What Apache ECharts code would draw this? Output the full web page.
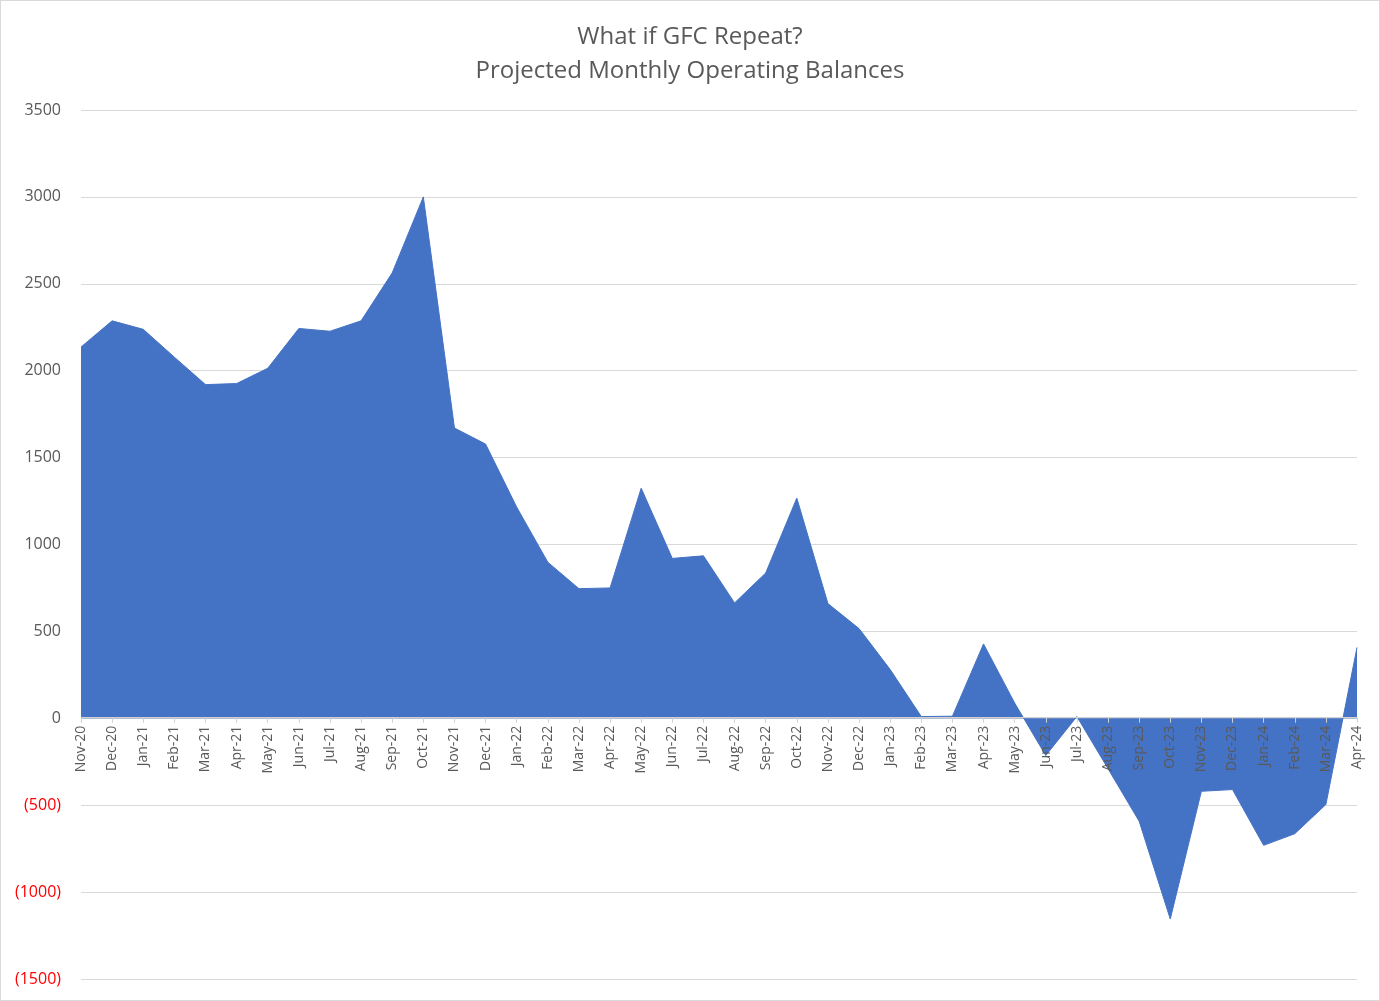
<!DOCTYPE html>
<html><head><meta charset="utf-8">
<script src="https://cdn.jsdelivr.net/npm/echarts@6/dist/echarts.min.js"></script>
<style>
html,body{margin:0;padding:0;background:#fff;}
#c{width:1380px;height:1001px;box-sizing:border-box;border:1px solid #d9d9d9;}
</style></head><body>
<div id="c"></div>
<script>
const titleLines = ["What if GFC Repeat?", "Projected Monthly Operating Balances"];
const months = ["Nov-20","Dec-20","Jan-21","Feb-21","Mar-21","Apr-21","May-21","Jun-21","Jul-21","Aug-21","Sep-21","Oct-21",
"Nov-21","Dec-21","Jan-22","Feb-22","Mar-22","Apr-22","May-22","Jun-22","Jul-22","Aug-22","Sep-22","Oct-22",
"Nov-22","Dec-22","Jan-23","Feb-23","Mar-23","Apr-23","May-23","Jun-23","Jul-23","Aug-23","Sep-23","Oct-23",
"Nov-23","Dec-23","Jan-24","Feb-24","Mar-24","Apr-24"];
const balances = [2136,2287,2238,2078,1920,1926,2014,2243,2227,2287,2563,3000,
1670,1578,1215,898,746,750,1324,920,935,664,836,1267,
660,516,281,10,12,428,88,-214,10,-290,-592,-1155,
-420,-410,-731,-664,-496,408];
const yMin = -1500, yMax = 3500, yStep = 500;

const W = 1380, H = 1001;
const gTop = 109, gBottom = 21, gLeft = 80, gRight = 22;
const plotH = H - gTop - gBottom;
// place the category axis at the value-axis zero
const zeroOffset = -plotH * (0 - yMin) / (yMax - yMin);

const chart = echarts.init(document.getElementById('c'), null, {renderer:'canvas'});
chart.setOption({
  animation:false,
  title:{
    text: titleLines.join('\n'),
    left:'center', top:14,
    textStyle:{fontFamily:'Open Sans', fontSize:24, fontWeight:'normal', color:'#595959', lineHeight:34}
  },
  grid:{left:gLeft, right:gRight, top:gTop, bottom:gBottom, containLabel:false, outerBoundsMode:'none'},
  xAxis:{
    type:'category', data:months, boundaryGap:false, position:'bottom', offset:zeroOffset, z:10,
    axisLine:{onZero:false, lineStyle:{color:'#d0d0d0', width:1}},
    axisTick:{show:true, length:5, lineStyle:{color:'#d0d0d0'}},
    axisLabel:{rotate:90, interval:0, fontFamily:'Open Sans', fontSize:14, color:'#595959', margin:8}
  },
  yAxis:{
    type:'value', min:yMin, max:yMax, interval:yStep,
    axisLine:{show:false}, axisTick:{show:false},
    splitLine:{lineStyle:{color:'#d9d9d9', width:1}},
    axisLabel:{
      fontFamily:'Open Sans', fontSize:16, margin:20,
      formatter: v => v < 0 ? '{neg|(' + Math.abs(v) + ')}' : String(v),
      color:'#595959',
      rich:{neg:{color:'#ff0000', fontFamily:'Open Sans', fontSize:16}}
    }
  },
  series:[{
    type:'line', data:balances, showSymbol:false, symbol:'none',
    lineStyle:{color:'#4472c4', width:1},
    areaStyle:{color:'#4472c4', opacity:1},
    z:1
  }]
});
</script>
</body></html>
